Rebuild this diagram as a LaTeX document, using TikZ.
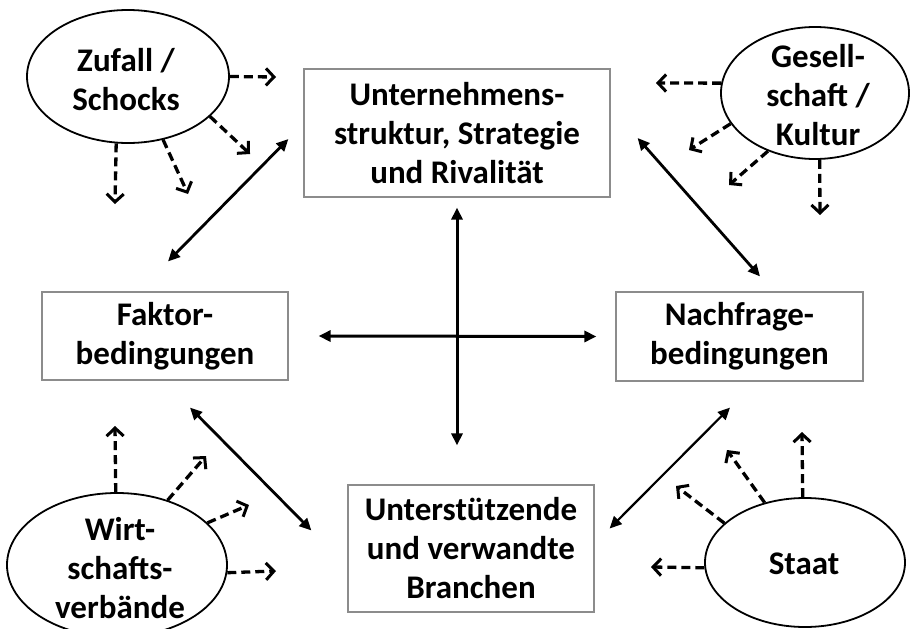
\documentclass[tikz,border=0pt]{standalone}
\usepackage{fontspec}
\setmainfont{Carlito}
\usetikzlibrary{arrows.meta,calc,shapes.geometric}
\definecolor{boxgray}{RGB}{140,140,140}
\begin{document}
\begin{tikzpicture}[x=1pt,y=-1pt,
  lbl/.style={font=\fontsize{33}{39}\selectfont\bfseries, align=center, text=black, inner sep=0pt},
  boxnode/.style={lbl, draw=boxgray, line width=1.2pt},
  ell/.style={ellipse, draw=black, line width=1.8pt, inner sep=0pt},
  dsh/.style={line width=3.3pt, dash pattern=on 9pt off 5pt,
    -{Straight Barb[length=8pt,width=17pt,line width=3pt]}},
  dbl/.style={line width=2.8pt,
    {Triangle[length=12pt,width=11pt]}-{Triangle[length=12pt,width=11pt]}},
]
\useasboundingbox (0,0) rectangle (911,629);
\clip (0,0) rectangle (911,629);

% boxes
\node[boxnode, minimum width=306pt, minimum height=128pt] (u) at (457,133)
  {Unternehmens-\\struktur, Strategie\\und Rivalität};
\node[boxnode, minimum width=246pt, minimum height=88pt] (f) at (165,336)
  {Faktor-\\bedingungen};
\node[boxnode, minimum width=247pt, minimum height=89pt] (n) at (739.5,336.5)
  {Nachfrage-\\bedingungen};
\node[boxnode, minimum width=246pt, minimum height=127pt] (b) at (471,548.5)
  {Unterstützende\\und verwandte\\Branchen};

% ellipses
\node[ell, minimum width=202pt, minimum height=133pt] (z) at (128,76.5) {};
\node[lbl] (zt) at (126,80) {Zufall /\\Schocks};
\node[ell, minimum width=188pt, minimum height=132pt] (g) at (815,93) {};
\node[lbl] (gt) at (818,95) {Gesell-\\schaft /\\Kultur};
\node[ell, minimum width=220pt, minimum height=144pt] (w) at (117,565) {};
\node[lbl] (wt) at (120,568) {Wirt-\\schafts-\\verbände};
\node[ell, minimum width=200pt, minimum height=129pt] (s) at (805,562.5) {};
\node[lbl] (st) at (804,564) {Staat};

% solid double arrows
\draw[dbl] ($(f.north)+(3,-30)$) -- ($(u.west)+(-15,6)$);
\draw[dbl] ($(u.east)+(27,5)$) -- ($(n.north)+(20.5,-15)$);
\draw[dbl] ($(f.south)+(25,27)$) -- ($(b.west)+(-36,-18)$);
\draw[dbl, line width=2.2pt] ($(n.south)+(-9.5,26)$) -- ($(b.east)+(15,-20)$);
\draw[dbl, line width=3pt] ($(u.south)+(0,10)$) -- ($(b.north)+(-14,-39)$);
\draw[dbl, line width=3pt] ($(f.east)+(30,0)$) -- ($(n.west)+(-19,0)$);

% dashed arrow ends
\coordinate (z1) at (276,77);
\coordinate (z2) at (250,154);
\coordinate (z3) at (188,194);
\coordinate (z4) at (115,204);
\coordinate (g1) at (656,83);
\coordinate (g2) at (689,150);
\coordinate (g3) at (729,185);
\coordinate (g4) at (820,215);
\coordinate (w1) at (115,426);
\coordinate (w2) at (206,456);
\coordinate (w3) at (249,505);
\coordinate (w4) at (276,571);
\coordinate (s1) at (651,567);
\coordinate (s2) at (676,486);
\coordinate (s3) at (727,450);
\coordinate (s4) at (802,432);

\draw[dsh] (z.0) -- (z1);
\draw[dsh] (z.-26) -- (z2);
\draw[dsh] (z.-61) -- (z3);
\draw[dsh] (z.-100) -- (z4);
\draw[dsh] (g.174) -- (g1);
\draw[dsh] (g.200.6) -- (g2);
\draw[dsh] (g.-129.7) -- (g3);
\draw[dsh] (g.-86) -- (g4);
\draw[dsh] (w.91) -- (w1);
\draw[dsh] (w.52.9) -- (w2);
\draw[dsh] (w.25) -- (w3);
\draw[dsh] (w.-4) -- (w4);
\draw[dsh] (s.183) -- (s1);
\draw[dsh] (s.154.6) -- (s2);
\draw[dsh] (s.124.9) -- (s3);
\draw[dsh] (s.92) -- (s4);
\end{tikzpicture}
\end{document}
